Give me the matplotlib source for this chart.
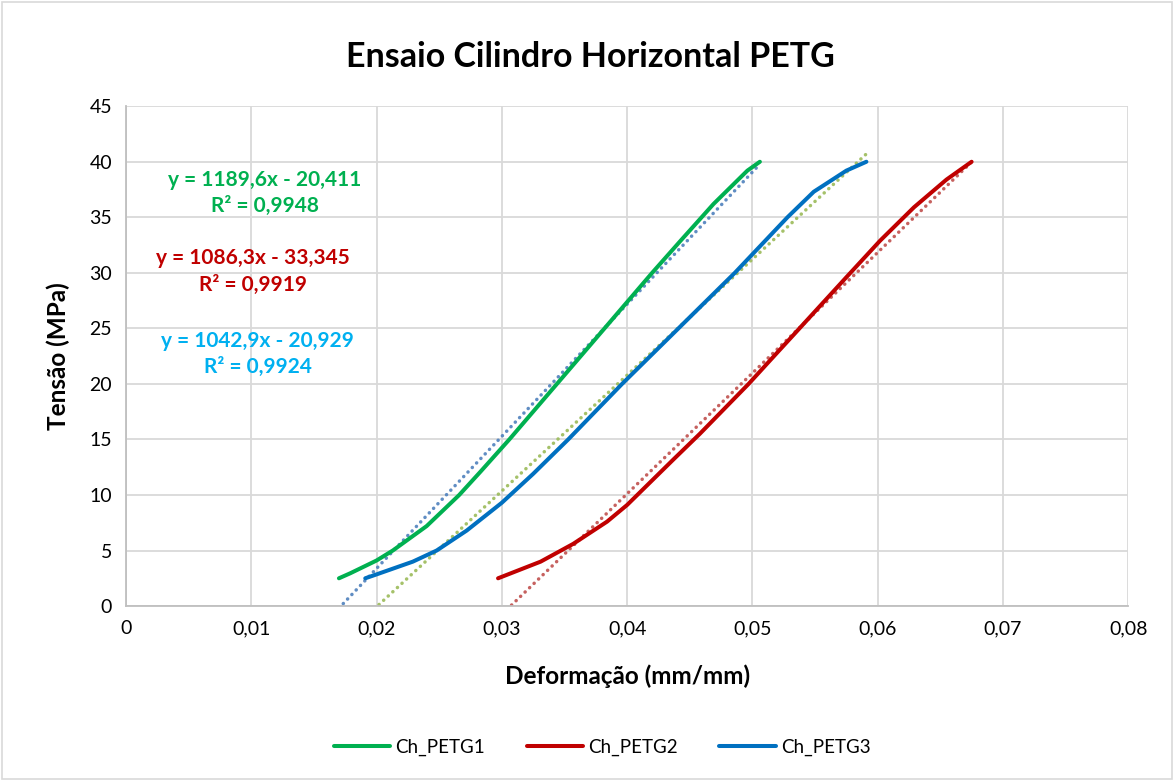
import numpy as np
import matplotlib.pyplot as plt
from matplotlib.patches import Rectangle

plt.rcParams['font.family'] = ['Lato', 'DejaVu Sans']

# Curvas tensão x deformação
x_petg1 = [0.0170, 0.0179, 0.0200, 0.0213, 0.0240, 0.0266, 0.0283, 0.0306,
           0.0344, 0.0382, 0.0420, 0.0442, 0.0469, 0.0496, 0.0506]
y_petg1 = [2.5, 2.95, 4.1, 5.0, 7.2, 10.0, 12.1, 15.0,
           20.0, 25.0, 30.0, 32.8, 36.2, 39.2, 40.0]

x_petg2 = [0.0297, 0.0331, 0.0357, 0.0384, 0.0400, 0.0437, 0.0458, 0.0497,
           0.0514, 0.0536, 0.0575, 0.0602, 0.0629, 0.0655, 0.0675]
y_petg2 = [2.5, 4.0, 5.6, 7.6, 9.1, 13.2, 15.5, 20.0,
           22.1, 24.8, 29.6, 32.9, 35.9, 38.4, 40.0]

x_petg3 = [0.0191, 0.0200, 0.0229, 0.0248, 0.0272, 0.0300, 0.0325, 0.0353,
           0.0396, 0.0441, 0.0486, 0.0528, 0.0549, 0.0575, 0.0591]
y_petg3 = [2.5, 2.85, 4.0, 5.0, 6.8, 9.3, 11.9, 15.0,
           20.0, 25.0, 30.0, 35.0, 37.3, 39.2, 40.0]

# Linhas de tendência lineares (coeficiente angular, intercepto, R²)
slopes = [1189.6, 1086.3, 1042.9]
intercepts = [-20.411, -33.345, -20.929]
r2 = [0.9948, 0.9919, 0.9924]

names = ['Ch_PETG1', 'Ch_PETG2', 'Ch_PETG3']
line_colors = ['#00B050', '#C00000', '#0070C0']
trend_colors = ['#4F81BD', '#C0504D', '#9BBB59']
label_colors = ['#00B050', '#C00000', '#00B0F0']
label_pos = [(0.0111, 37.2), (0.0101, 30.1), (0.0105, 22.7)]

xs = [x_petg1, x_petg2, x_petg3]
ys = [y_petg1, y_petg2, y_petg3]

fig = plt.figure(figsize=(11.74, 7.81), dpi=100)
ax = fig.add_axes([0.1073, 0.224, 0.8537, 0.640])

for x, y, c, n in zip(xs, ys, line_colors, names):
    ax.plot(x, y, color=c, lw=2.9, label=n, zorder=3,
            solid_capstyle='round', solid_joinstyle='round')

for x, a, b, c in zip(xs, slopes, intercepts, trend_colors):
    xt = np.array([min(x), max(x)])
    ax.plot(xt, a * xt + b, color=c, lw=2.5, linestyle=(0, (0.05, 1.75)),
            dash_capstyle='round', alpha=0.9, zorder=2)

def br(v, nd):
    return f'{v:.{nd}f}'.replace('.', ',')

for a, b, r, c, (px, py) in zip(slopes, intercepts, r2, label_colors, label_pos):
    txt = f'y = {br(a, 1)}x - {br(-b, 3)}\nR² = {br(r, 4)}'
    ax.text(px, py, txt, color=c, fontsize=15, fontweight='bold',
            ha='center', va='center', multialignment='center',
            linespacing=1.4, zorder=4)

ax.set_xlim(0, 0.08)
ax.set_ylim(0, 45)
ax.set_xticks(np.arange(0, 0.081, 0.01))
ax.set_yticks(np.arange(0, 46, 5))
ax.set_xticklabels(['0'] + [br(v, 2) for v in np.arange(0.01, 0.081, 0.01)])
ax.tick_params(axis='both', length=0, labelsize=14, colors='#000000', pad=10)
ax.grid(True, color='#D9D9D9', lw=1.3)
ax.set_axisbelow(True)
for s in ['top', 'right']:
    ax.spines[s].set_visible(False)
for s in ['left', 'bottom']:
    ax.spines[s].set_color('#BFBFBF')
    ax.spines[s].set_linewidth(1.3)

ax.set_xlabel('Deformação (mm/mm)', fontsize=17.5, fontweight='bold', labelpad=20)
ax.set_ylabel('Tensão (MPa)', fontsize=17.5, fontweight='bold', labelpad=14)
fig.suptitle('Ensaio Cilindro Horizontal PETG', fontsize=24.5, fontweight='bold',
             x=0.503, y=0.948)

fig.legend(loc='center', bbox_to_anchor=(0.513, 0.043), ncol=3, frameon=False,
           fontsize=13.5, handlelength=3.0, columnspacing=2.2, handletextpad=0.3)

# moldura da área do gráfico
fig.patches.append(Rectangle((0.002, 0.002), 0.996, 0.996, transform=fig.transFigure,
                             fill=False, edgecolor='#D9D9D9', lw=1.2))

fig.savefig('out.png', dpi=100)
